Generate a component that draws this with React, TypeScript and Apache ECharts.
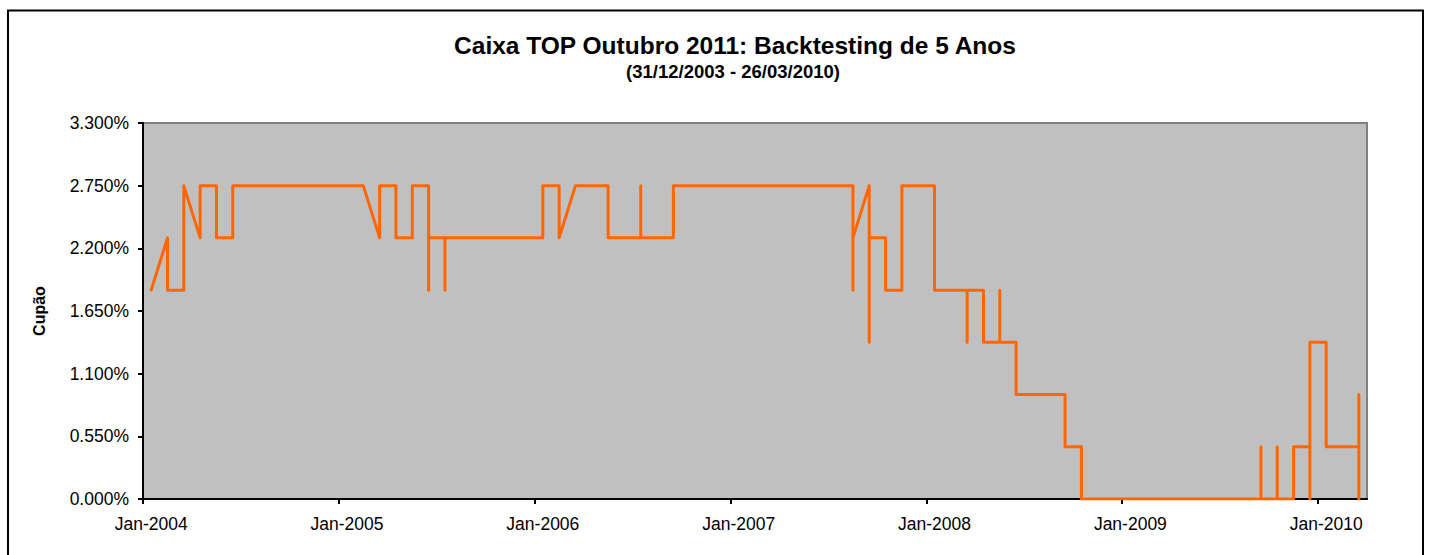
import React, { useEffect, useRef } from 'react';
import * as echarts from 'echarts';

const TITLE = 'Caixa TOP Outubro 2011: Backtesting de 5 Anos';
const SUBTITLE = '(31/12/2003 - 26/03/2010)';
const Y_NAME = 'Cupão';

// x positions: months since Jan-2004 (Excel date axis with monthly base unit)
const X_MONTHS_TOTAL = 75;
const xTickMonths = [0, 12, 24, 36, 48, 60, 72];
const xTickLabels = ['Jan-2004', 'Jan-2005', 'Jan-2006', 'Jan-2007', 'Jan-2008', 'Jan-2009', 'Jan-2010'];

const Y_MIN = 0;
const Y_MAX = 3.3;
const Y_STEP = 0.55;

// coupon values (%) observed within each month, in order (index 0 = Jan-2004)
const monthValues: number[][] = [
  [1.833],                 // 2004-01
  [2.292, 1.833],          // 2004-02
  [1.833, 2.75],           // 2004-03
  [2.292, 2.75],           // 2004-04
  [2.75, 2.292],           // 2004-05
  [2.292, 2.75],           // 2004-06
  [2.75],                  // 2004-07
  [2.75],                  // 2004-08
  [2.75],                  // 2004-09
  [2.75],                  // 2004-10
  [2.75],                  // 2004-11
  [2.75],                  // 2004-12
  [2.75],                  // 2005-01
  [2.75],                  // 2005-02
  [2.292, 2.75],           // 2005-03
  [2.75, 2.292],           // 2005-04
  [2.292, 2.75],           // 2005-05
  [2.75, 1.833, 2.292],    // 2005-06
  [2.292, 1.833, 2.292],   // 2005-07
  [2.292],                 // 2005-08
  [2.292],                 // 2005-09
  [2.292],                 // 2005-10
  [2.292],                 // 2005-11
  [2.292],                 // 2005-12
  [2.292, 2.75],           // 2006-01
  [2.75, 2.292],           // 2006-02
  [2.75],                  // 2006-03
  [2.75],                  // 2006-04
  [2.75, 2.292],           // 2006-05
  [2.292],                 // 2006-06
  [2.292, 2.75, 2.292],    // 2006-07
  [2.292],                 // 2006-08
  [2.292, 2.75],           // 2006-09
  [2.75],                  // 2006-10
  [2.75],                  // 2006-11
  [2.75],                  // 2006-12
  [2.75],                  // 2007-01
  [2.75],                  // 2007-02
  [2.75],                  // 2007-03
  [2.75],                  // 2007-04
  [2.75],                  // 2007-05
  [2.75],                  // 2007-06
  [2.75],                  // 2007-07
  [2.75, 1.833, 2.292],    // 2007-08
  [2.75, 1.375, 2.292],    // 2007-09
  [2.292, 1.833],          // 2007-10
  [1.833, 2.75],           // 2007-11
  [2.75],                  // 2007-12
  [2.75, 1.833],           // 2008-01
  [1.833],                 // 2008-02
  [1.833, 1.375, 1.833],   // 2008-03
  [1.833, 1.375],          // 2008-04
  [1.375, 1.833, 1.375],   // 2008-05
  [1.375, 0.917],          // 2008-06
  [0.917],                 // 2008-07
  [0.917],                 // 2008-08
  [0.917, 0.458],          // 2008-09
  [0.458, 0],              // 2008-10
  [0],                     // 2008-11
  [0],                     // 2008-12
  [0],                     // 2009-01
  [0],                     // 2009-02
  [0],                     // 2009-03
  [0],                     // 2009-04
  [0],                     // 2009-05
  [0],                     // 2009-06
  [0],                     // 2009-07
  [0],                     // 2009-08
  [0, 0.458, 0],           // 2009-09
  [0, 0.458, 0],           // 2009-10
  [0, 0.458],              // 2009-11
  [0.458, 0, 1.375],       // 2009-12
  [1.375, 0.458],          // 2010-01
  [0.458],                 // 2010-02
  [0.458, 0, 0.917],       // 2010-03
];

const FONT = '"Liberation Sans", Arial, sans-serif';

export default function App() {
  const ref = useRef<HTMLDivElement>(null);

  useEffect(() => {
    document.body.style.margin = '0';
    if (!ref.current) return;
    const chart = echarts.init(ref.current, undefined, { renderer: 'svg' });

    const seriesData = monthValues.flatMap((vals, m) => vals.map((v) => [m + 0.5, v]));

    chart.setOption({
      animation: false,
      backgroundColor: '#ffffff',
      textStyle: { fontFamily: FONT },
      grid: {
        left: 143,
        top: 123,
        right: 65,
        bottom: 56,
        show: true,
        backgroundColor: '#C0C0C0',
        borderColor: '#808080',
        borderWidth: 2,
        containLabel: false,
      },
      graphic: [
        {
          type: 'rect',
          shape: { x: 8, y: 10.5, width: 1415, height: 580 },
          style: { fill: 'none', stroke: '#000', lineWidth: 2 },
          z: 100,
          silent: true,
        },
        {
          type: 'text',
          x: 735,
          y: 45,
          style: {
            text: TITLE,
            fontFamily: FONT,
            fontWeight: 'bold',
            fontSize: 24.5,
            fill: '#000',
            align: 'center',
            verticalAlign: 'middle',
          },
        },
        {
          type: 'text',
          x: 733,
          y: 71,
          style: {
            text: SUBTITLE,
            fontFamily: FONT,
            fontWeight: 'bold',
            fontSize: 18.5,
            fill: '#000',
            align: 'center',
            verticalAlign: 'middle',
          },
        },
      ],
      xAxis: {
        type: 'value',
        min: 0,
        max: X_MONTHS_TOTAL,
        interval: 12,
        splitLine: { show: false },
        axisLine: { show: true, onZero: false, lineStyle: { color: '#000', width: 2 } },
        axisTick: {
          show: true,
          length: 5,
          customValues: xTickMonths,
          lineStyle: { color: '#000', width: 2 },
        },
        axisLabel: {
          customValues: xTickMonths.map((m) => m + 0.5),
          formatter: (v: number) => {
            const i = xTickMonths.indexOf(Math.round(v - 0.5));
            return i >= 0 ? xTickLabels[i] : '';
          },
          color: '#000',
          fontSize: 17.5,
          fontFamily: FONT,
          margin: 16,
        },
      },
      yAxis: {
        type: 'value',
        min: Y_MIN,
        max: Y_MAX,
        interval: Y_STEP,
        name: Y_NAME,
        nameLocation: 'middle',
        nameRotate: 90,
        nameGap: 96,
        nameTextStyle: { fontWeight: 'bold', fontSize: 16, color: '#000', fontFamily: FONT },
        splitLine: { show: false },
        axisLine: { show: true, lineStyle: { color: '#000', width: 2 } },
        axisTick: { show: true, length: 5, lineStyle: { color: '#000', width: 2 } },
        axisLabel: {
          formatter: (v: number) => v.toFixed(3) + '%',
          color: '#000',
          fontSize: 17.5,
          fontFamily: FONT,
          margin: 14,
        },
      },
      series: [
        {
          type: 'line',
          data: seriesData,
          showSymbol: false,
          symbol: 'none',
          lineStyle: { color: '#FF6600', width: 3, join: 'round', cap: 'round' },
          z: 3,
        },
      ],
    });

    return () => chart.dispose();
  }, []);

  return <div ref={ref} style={{ width: 1432, height: 555 }} />;
}
